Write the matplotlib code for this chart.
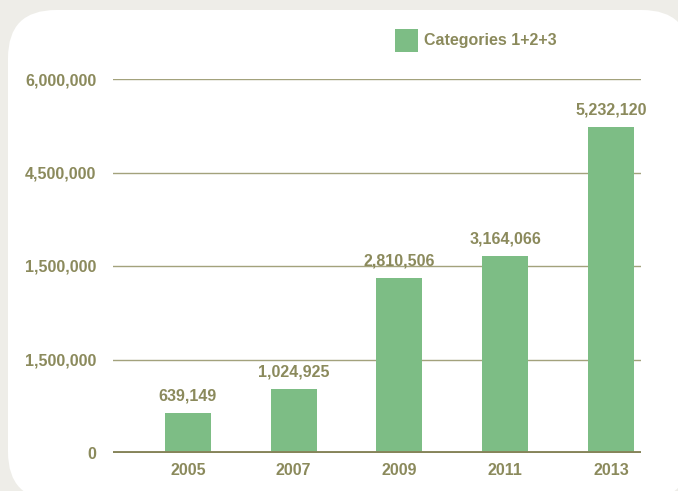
import matplotlib
matplotlib.use('Agg')
import matplotlib.pyplot as plt
from matplotlib.patches import FancyBboxPatch, Rectangle

years = ['2005', '2007', '2009', '2011', '2013']
values = [639149, 1024925, 2810506, 3164066, 5232120]
tick_vals = [0, 1500000, 3000000, 4500000, 6000000]
tick_labels = ['0', '1,500,000', '1,500,000', '4,500,000', '6,000,000']
legend_label = 'Categories 1+2+3'

bar_col = '#7dbd85'
txt_col = '#8b8a5c'
fs = 11.5
plt.rcParams['font.family'] = ['Liberation Sans', 'DejaVu Sans']
plt.rcParams['font.weight'] = 'bold'

W, H = 678, 491
fig = plt.figure(figsize=(W / 100, H / 100), dpi=100)
fig.patch.set_facecolor('#eeede8')

# background axes in pixel units, for the white rounded panel and the legend
bg = fig.add_axes([0, 0, 1, 1], zorder=0)
bg.set_xlim(0, W)
bg.set_ylim(H, 0)
bg.axis('off')
bg.add_patch(FancyBboxPatch((8, 10), 682, 490, boxstyle='round,pad=0,rounding_size=48',
                            facecolor='white', edgecolor='none'))
bg.add_patch(Rectangle((395, 29), 23, 23, facecolor=bar_col, edgecolor='none'))
bg.text(424, 40, legend_label, color=txt_col, fontsize=fs, fontweight='bold', va='center', ha='left')

ax = fig.add_axes([113 / W, 38 / H, 528 / W, 374 / H], zorder=1)
ax.set_facecolor('none')
x = range(len(years))
ax.bar(x, values, width=0.435, color=bar_col, zorder=2)
ax.set_xlim(-0.709, 4.284)
ax.set_ylim(0, 6000000)

for yv in tick_vals[1:]:
    ax.axhline(yv, color='#a3a27c', lw=1.0, zorder=1)
ax.axhline(0, color='#86845a', lw=2.8, zorder=3)

for s in ax.spines.values():
    s.set_visible(False)
ax.set_yticks(tick_vals)
ax.set_yticklabels(tick_labels)
ax.set_xticks(list(x))
ax.set_xticklabels(years)
ax.tick_params(length=0, colors=txt_col, labelsize=fs)
ax.tick_params(axis='y', pad=12)
ax.tick_params(axis='x', pad=7)

for i, v in enumerate(values):
    ax.annotate(f'{v:,}', (i, v), xytext=(0, 7), textcoords='offset points',
                ha='center', va='bottom', color=txt_col, fontsize=fs, fontweight='bold')

fig.savefig('out.png', dpi=100, facecolor=fig.get_facecolor())
